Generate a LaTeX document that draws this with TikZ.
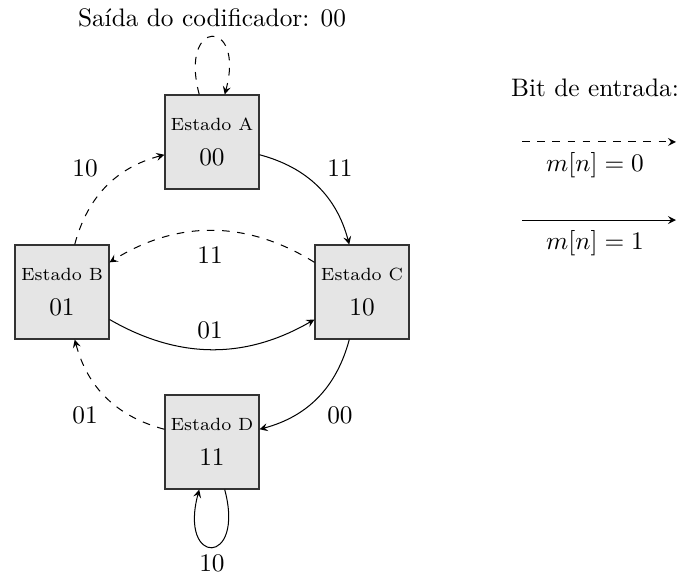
\documentclass[tikz,border=0pt]{standalone}
\usepackage{mathtools}
\usepackage{tikz}

\begin{document}
\begin{tikzpicture}[>=stealth]
        \tikzset{estado/.style={draw=black!80, semithick, fill=gray!20, minimum size=1.3cm, align=center, inner sep=1pt},
                 rotulo/.style={inner sep=1pt}}
        \useasboundingbox (0,0) rectangle (9.5,-8.014);
        \node [estado] (A) at (2.944,-1.972){{\scriptsize Estado A}\\[2pt] 00};
        \node [estado] (B) at (0.861,-4.056){{\scriptsize Estado B}\\[2pt] 01};
        \node [estado] (C) at (5.028,-4.056){{\scriptsize Estado C}\\[2pt] 10};
        \node [estado] (D) at (2.944,-6.139){{\scriptsize Estado D}\\[2pt] 11};

        \draw [->, dashed] (A) to[loop above, looseness=8] (A);
        \draw [->] (A) to[bend left=30] (C);
        \draw [->, dashed] (B) to[bend left=30] (A);
        \draw [->, dashed] (C) to[bend right=32] (B);
        \draw [->] (B) to[bend right=30] (C);
        \draw [->] (C) to[bend left=30] (D);
        \draw [->, dashed] (D) to[bend left=30] (B);
        \draw [->] (D) to[loop below] (D);

        \node [rotulo] (sA) at (2.944,-0.25){Saída do codificador: 00};
        \node [rotulo] (sAC) at (4.722,-2.333){11};
        \node [rotulo] (sBA) at (1.181,-2.333){10};
        \node [rotulo] (sCB) at (2.917,-3.542){11};
        \node [rotulo] (sBC) at (2.917,-4.583){01};
        \node [rotulo] (sDB) at (1.181,-5.764){01};
        \node [rotulo] (sCD) at (4.722,-5.764){00};
        \node [rotulo] (sD) at (2.944,-7.819){10};

        % legenda
        \node [rotulo] (bit) at (8.264,-1.222){Bit de entrada:};
        \coordinate (z0) at (7.25,-1.972);
        \coordinate (z1) at (9.389,-1.972);
        \coordinate (u0) at (7.25,-3.056);
        \coordinate (u1) at (9.389,-3.056);
        \draw [->, dashed] (z0) -- (z1);
        \draw [->] (u0) -- (u1);
        \node [rotulo] (m0) at (8.264,-2.292){$m[n] = 0$};
        \node [rotulo] (m1) at (8.264,-3.375){$m[n] = 1$};
\end{tikzpicture}
\end{document}
